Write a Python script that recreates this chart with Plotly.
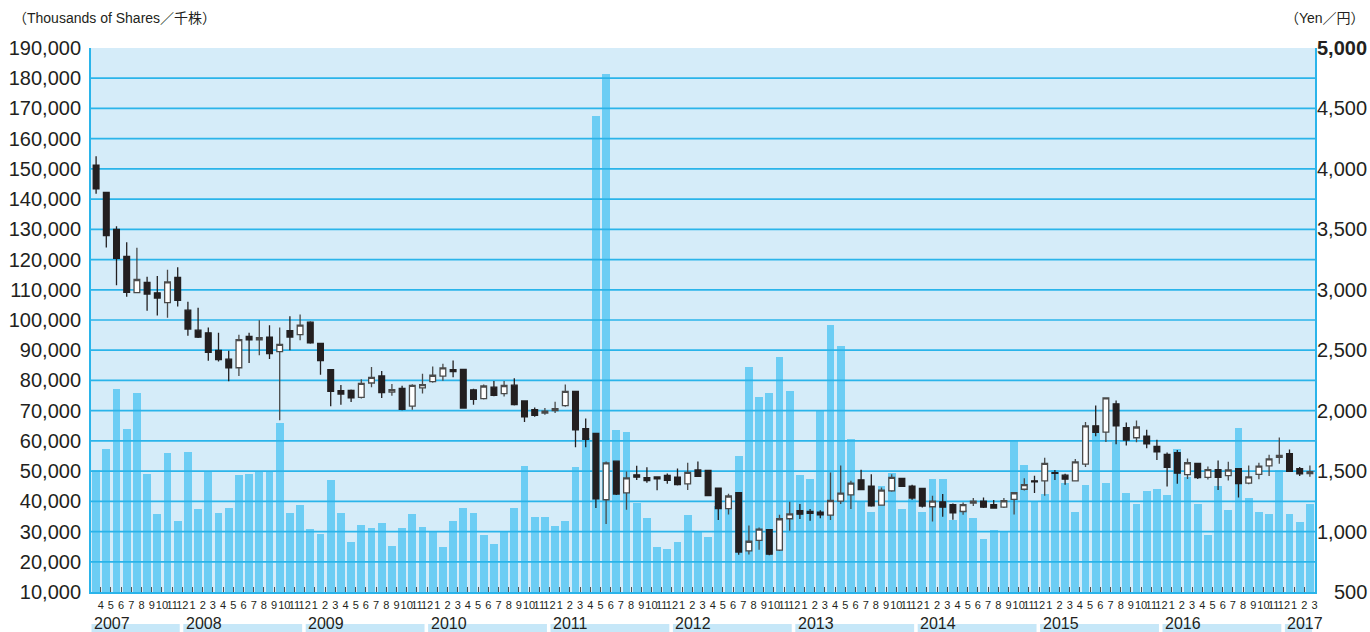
import plotly.graph_objects as go

# Monthly trading volume (thousands of shares) and share price (yen), Apr 2007 - Mar 2017
start_year, start_month = 2007, 4
years = ["2007", "2008", "2009", "2010", "2011", "2012", "2013", "2014", "2015", "2016", "2017"]

volume = [
    50400, 57400, 77300, 64000, 76000, 49100, 35900, 56100, 33600,
    56400, 37500, 49700, 36200, 37900, 48800, 49100, 49700, 49700, 65900, 36200, 38900,
    30900, 29200, 47100, 36200, 26600, 32200, 31200, 32900, 25300, 31200, 35900, 31600,
    29700, 25000, 33600, 37900, 36200, 28900, 26000, 29700, 37900, 51800, 34900, 34900,
    31900, 33600, 51500, 61000, 167500, 181500, 63500, 62900, 39400, 34400, 24800, 24100,
    26400, 35600, 30100, 28200, 38500, 40000, 55000, 84500, 74500, 75800, 87800, 76500,
    48700, 47400, 70200, 98400, 91400, 60600, 40100, 36500, 45100, 49400, 37500, 40800,
    36500, 47400, 47400, 33800, 37000, 34500, 27500, 30500, 30200, 60300, 52000, 40200,
    42400, 50400, 46100, 36500, 45400, 62600, 46100, 59700, 42800, 39100, 43400, 44100,
    42100, 57300, 48100, 39100, 28900, 45100, 37100, 64300, 41100, 36500, 35800, 50400,
    35800, 33200, 39100,
]

price_open = [
    4030, 3805, 3500, 3277, 2977, 3060, 2975, 2893, 3102,
    2831, 2666, 2644, 2499, 2426, 2355, 2615, 2586, 2609, 2488, 2662, 2629,
    2732, 2557, 2339, 2165, 2168, 2110, 2229, 2287, 2154, 2185, 2037, 2188,
    2240, 2285, 2340, 2342, 2172, 2100, 2194, 2141, 2211, 2080, 2009, 1980,
    2000, 2041, 2160, 1851, 1812, 1263, 1582, 1320, 1469, 1445, 1452, 1465,
    1451, 1395, 1509, 1506, 1360, 1189, 1321, 841, 927, 1015, 847, 1106,
    1172, 1166, 1161, 1136, 1252, 1304, 1428, 1376, 1219, 1337, 1439, 1376,
    1357, 1205, 1246, 1222, 1166, 1235, 1252, 1222, 1202, 1267, 1350, 1420,
    1420, 1488, 1466, 1420, 1558, 1875, 1823, 2057, 1860, 1776, 1790, 1704,
    1638, 1652, 1471, 1564, 1449, 1512, 1462, 1520, 1400, 1473, 1544, 1613,
    1644, 1521, 1480,
]
price_high = [
    4105, 3810, 3525, 3394, 3348, 3108, 3115, 3166, 3186,
    2900, 2852, 2688, 2644, 2496, 2629, 2645, 2747, 2706, 2688, 2781, 2796,
    2740, 2560, 2345, 2212, 2176, 2259, 2361, 2328, 2220, 2207, 2218, 2306,
    2365, 2389, 2414, 2345, 2182, 2216, 2245, 2246, 2268, 2082, 2026, 2022,
    2073, 2216, 2165, 1935, 1815, 1580, 1588, 1496, 1545, 1532, 1456, 1480,
    1522, 1570, 1580, 1508, 1362, 1313, 1324, 1050, 1034, 1020, 1139, 1246,
    1227, 1186, 1177, 1489, 1547, 1420, 1511, 1475, 1365, 1475, 1445, 1387,
    1360, 1296, 1310, 1233, 1241, 1277, 1282, 1260, 1277, 1324, 1440, 1461,
    1610, 1510, 1478, 1601, 1906, 2042, 2106, 2085, 1903, 1918, 1843, 1760,
    1654, 1675, 1605, 1566, 1539, 1588, 1577, 1522, 1547, 1570, 1635, 1777,
    1678, 1533, 1546,
]
price_low = [
    3795, 3350, 3037, 2942, 2972, 2826, 2788, 2768, 2862,
    2620, 2601, 2412, 2407, 2243, 2287, 2394, 2459, 2427, 1920, 2499, 2583,
    2553, 2298, 2036, 2049, 2071, 2100, 2193, 2105, 2124, 2003, 2008, 2141,
    2230, 2247, 2277, 2017, 2048, 2092, 2120, 2117, 2042, 1906, 1950, 1966,
    1980, 2032, 1698, 1698, 1194, 1063, 1302, 1180, 1426, 1404, 1341, 1395,
    1382, 1344, 1452, 1292, 1095, 1142, 808, 810, 849, 805, 840, 1006,
    1103, 1089, 1111, 1095, 1227, 1186, 1343, 1205, 1213, 1329, 1368, 1263,
    1199, 1084, 1122, 1097, 1139, 1211, 1194, 1191, 1194, 1142, 1340, 1318,
    1296, 1427, 1387, 1415, 1533, 1788, 1740, 1723, 1711, 1739, 1690, 1591,
    1373, 1395, 1434, 1434, 1430, 1343, 1423, 1282, 1392, 1433, 1460, 1561,
    1492, 1459, 1453,
]
price_close = [
    3835, 3448, 3259, 2978, 3085, 2965, 2932, 3066, 2913,
    2675, 2608, 2482, 2422, 2355, 2587, 2586, 2603, 2473, 2549, 2609, 2707,
    2561, 2415, 2160, 2138, 2107, 2226, 2276, 2149, 2174, 2011, 2210, 2215,
    2293, 2354, 2324, 2022, 2094, 2204, 2127, 2208, 2050, 1948, 1962, 1995,
    2016, 2160, 1842, 1763, 1270, 1568, 1310, 1444, 1450, 1422, 1436, 1423,
    1388, 1490, 1456, 1298, 1189, 1294, 830, 920, 1020, 813, 1106, 1147,
    1144, 1150, 1139, 1257, 1318, 1401, 1348, 1213, 1343, 1448, 1373, 1277,
    1211, 1252, 1202, 1155, 1222, 1252, 1202, 1194, 1255, 1321, 1388, 1412,
    1564, 1481, 1433, 1576, 1875, 1820, 2105, 1874, 1757, 1865, 1725, 1659,
    1531, 1483, 1569, 1446, 1512, 1449, 1509, 1397, 1453, 1542, 1601, 1630,
    1499, 1477, 1496,
]

volume_ticks = list(range(10000, 190001, 10000))
price_ticks = list(range(500, 5001, 500))

n = len(volume)
xs = list(range(n))
month_labels = [str((start_month - 1 + i) % 12 + 1) for i in xs]

# index of the first and last month belonging to each calendar year
year_spans = []
for yr in years:
    first = max(0, (int(yr) - start_year) * 12 - (start_month - 1))
    last = min(n - 1, first + 11 if first > 0 else 12 - start_month)
    year_spans.append((yr, first, last))

TEXT = "#231f20"
FONT = "Liberation Sans Narrow, Arial Narrow, Liberation Sans, Arial, Noto Sans CJK JP, sans-serif"
GRID = "#2ab4ea"
BAR = "#6ccdf4"

fig = go.Figure()

fig.add_trace(go.Bar(
    x=xs, y=volume, width=0.78, marker=dict(color=BAR, line=dict(width=0)),
    showlegend=False, hoverinfo="skip",
))

# horizontal grid drawn over the volume bars
gx, gy = [], []
for v in volume_ticks[1:-1]:
    gx += [-0.5, n - 0.5, None]
    gy += [v, v, None]
fig.add_trace(go.Scatter(
    x=gx, y=gy, mode="lines", line=dict(color=GRID, width=1.7),
    showlegend=False, hoverinfo="skip",
))

fig.add_trace(go.Candlestick(
    x=xs, open=price_open, high=price_high, low=price_low, close=price_close,
    yaxis="y2", whiskerwidth=0,
    increasing=dict(fillcolor="#ffffff", line=dict(color="#4a4a4a", width=1.3)),
    decreasing=dict(fillcolor="#231f20", line=dict(color="#231f20", width=1.3)),
    showlegend=False, hoverinfo="skip",
))

annotations = [
    dict(text="（Thousands of Shares／千株）", xref="paper", yref="paper", x=0, y=1,
         xshift=-80, yshift=30, xanchor="left", yanchor="middle", showarrow=False,
         font=dict(family=FONT, size=14, color=TEXT)),
    dict(text="（Yen／円）", xref="paper", yref="paper", x=1, y=1,
         xshift=52, yshift=30, xanchor="right", yanchor="middle", showarrow=False,
         font=dict(family=FONT, size=14, color=TEXT)),
]
for p in price_ticks:
    label = f"{p:,}"
    if p == price_ticks[-1]:
        label = f"<b>{label}</b>"
    annotations.append(dict(
        text=label, xref="paper", yref="y2", x=1, y=p, xshift=54, xanchor="right",
        yanchor="middle", showarrow=False, font=dict(family=FONT, size=20, color=TEXT),
    ))

shapes = []
for yr, first, last in year_spans:
    shapes.append(dict(
        type="rect", xref="x", yref="paper", x0=first - 0.45, x1=last + 0.2,
        y0=-0.09, y1=-0.0588, fillcolor="#c6e7f8", line=dict(width=0), layer="below",
    ))
    annotations.append(dict(
        text=yr, xref="x", yref="paper", x=first - 0.4, y=-0.057,
        xanchor="left", yanchor="middle", showarrow=False,
        font=dict(family=FONT, size=16, color=TEXT),
    ))

fig.update_layout(
    width=1370, height=632,
    margin=dict(l=91, r=55, t=48, b=40, pad=0),
    paper_bgcolor="#ffffff", plot_bgcolor="#d5ecf9",
    bargap=0, boxgap=0.2,
    showlegend=False,
    font=dict(family=FONT, color=TEXT),
    xaxis=dict(
        range=[-0.5, n - 0.5], rangeslider=dict(visible=False),
        tickmode="array", tickvals=[i + 0.45 for i in xs], ticktext=month_labels,
        tickangle=0, automargin=False, ticklabelstandoff=2,
        ticks="inside", ticklen=5, tickwidth=1, tickcolor="#555555",
        tickfont=dict(family=FONT, size=11, color=TEXT),
        showgrid=False, zeroline=False,
        showline=True, linecolor=GRID, linewidth=2,
        fixedrange=True,
    ),
    yaxis=dict(
        range=[volume_ticks[0], volume_ticks[-1]], automargin=False,
        tickmode="array", tickvals=volume_ticks, tickformat=",d",
        tickfont=dict(family=FONT, size=20, color=TEXT),
        ticks="", ticklabelstandoff=4,
        showgrid=False, zeroline=False,
        showline=True, linecolor=GRID, linewidth=2,
        fixedrange=True,
    ),
    yaxis2=dict(
        range=[price_ticks[0], price_ticks[-1]], overlaying="y", side="right",
        automargin=False,
        showticklabels=False, ticks="", showgrid=False, zeroline=False,
        showline=True, linecolor=GRID, linewidth=2,
        fixedrange=True,
    ),
    annotations=annotations,
    shapes=shapes,
)

fig.write_html("out.html")
